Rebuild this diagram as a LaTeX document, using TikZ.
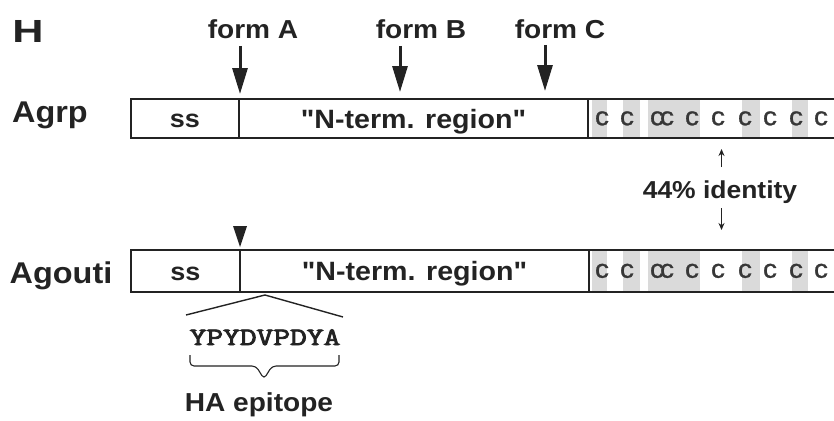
\documentclass[tikz,border=0pt]{standalone}
\usepackage{fontspec}
\newfontfamily\sansb{Liberation Sans}[FakeStretch=1.08]
\newfontfamily\cfont{Liberation Sans}[FakeStretch=1.08, FakeBold=1]
\newfontfamily\epifont{Latin Modern Mono}[FakeBold=3.5, FakeStretch=1.3]
\usetikzlibrary{arrows.meta}
\definecolor{ink}{RGB}{35,35,35}
\definecolor{band}{RGB}{218,218,218}
\definecolor{cgray}{RGB}{55,55,55}
\tikzset{
  lbl/.style={font=\sansb\bfseries\fontsize{26}{30}\selectfont, text=ink, inner sep=0pt, anchor=base},
  protname/.style={font=\sansb\bfseries\fontsize{30}{36}\selectfont, text=ink, inner sep=0pt, anchor=base},
  seg/.style={draw=ink, line width=1.6pt, inner sep=0pt, text=ink, text depth=0pt},
  cc/.style={font=\cfont\fontsize{26}{30}\selectfont, text=cgray, inner sep=0pt, text height=13.5pt, text depth=0pt},
  bigarrow/.style={draw=ink, line width=3pt, -{Triangle[width=15pt,length=26pt]}},
  smallarrow/.style={draw=ink, line width=1pt, -{Stealth[width=6pt,length=7pt]}},
  thinline/.style={draw=ink, line width=1.4pt},
}
\begin{document}
\begin{tikzpicture}[x=1pt, y=-1pt]
\useasboundingbox (0,0) rectangle (834,420);
\clip (0,0) rectangle (834,420);

% panel letter and names
\node[lbl, font=\sansb\bfseries\fontsize{32}{36}\selectfont] (H) at (28,43) {\scalebox{1.25}[1]{H}};
\node[protname] (agrpname) at (50,122) {Agrp};
\node[protname] (agoutiname) at (61,283) {Agouti};

% form labels
\node[lbl] (formA) at (253,38) {form A};
\node[lbl] (formB) at (421,38) {form B};
\node[lbl] (formC) at (560,38) {form C};

% gray bands in the cysteine regions
\foreach \a/\b in {592/607, 623/640, 648/700, 742/760, 792/808}{
  \fill[band] (\a,100) rectangle (\b,137);
  \fill[band] (\a,251) rectangle (\b,291);
}

% Agrp boxes
\node[seg, minimum width=108pt, minimum height=39pt, text height=18pt,
      font=\sansb\bfseries\fontsize{25}{30}\selectfont] (rss) at (185,118.5) {ss};
\node[seg, minimum width=349pt, minimum height=39pt, text height=19pt,
      font=\sansb\bfseries\fontsize{26.5}{30}\selectfont] (rnt) at (413.5,118.5) {"N-term. region"};
\node[seg, minimum width=272pt, minimum height=39pt] (rcy) at (724,118.5) {};

% Agouti boxes
\node[seg, minimum width=109pt, minimum height=42pt, text height=18pt,
      font=\sansb\bfseries\fontsize{25}{30}\selectfont] (oss) at (185.5,271) {ss};
\node[seg, minimum width=349pt, minimum height=42pt, text height=19pt,
      font=\sansb\bfseries\fontsize{26.5}{30}\selectfont] (ont) at (414.5,271) {"N-term. region"};
\node[seg, minimum width=272pt, minimum height=42pt] (ocy) at (725,271) {};

% cysteines
\foreach \x [count=\i] in {602,627,662,692,718,745,770,796,821}{
  \ifnum\i=3
    \node[cc] (rc\i) at (\x,118.5) {c\kern-4pt c};
    \node[cc] (oc\i) at (\x,271) {c\kern-4pt c};
  \else
    \node[cc] (rc\i) at (\x,118.5) {c};
    \node[cc] (oc\i) at (\x,271) {c};
  \fi
}

% cleavage arrows
\coordinate (sA) at (240,46);  \coordinate (tA) at (240,94);
\coordinate (sB) at (400,46);  \coordinate (tB) at (400,92);
\coordinate (sC) at (545,45);  \coordinate (tC) at (545,91);
\draw[bigarrow] (sA) -- (tA);
\draw[bigarrow] (sB) -- (tB);
\draw[bigarrow] (sC) -- (tC);

% agouti insertion marker
\fill[ink] (233,226) -- (247,226) -- (240,247) -- cycle;

% identity
\node[lbl, font=\sansb\bfseries\fontsize{24.5}{28}\selectfont] (ident) at (720,198) {44\% identity};
\coordinate (u0) at (721.5,167); \coordinate (u1) at (721.5,149);
\coordinate (d0) at (721.5,208); \coordinate (d1) at (721.5,230);
\draw[smallarrow] (u0) -- (u1);
\draw[smallarrow] (d0) -- (d1);

% HA epitope
\coordinate (apex) at (265,295);
\coordinate (eL) at (186,315);
\coordinate (eR) at (343,317);
\draw[thinline] (eL) -- (apex) -- (eR);
\node[font=\epifont\fontsize{25}{28}\selectfont, text=ink, inner sep=0pt, anchor=base] (seq) at (265,345) {YPYDVPDYA};
\draw[draw=ink, line width=1.1pt, rounded corners=4pt]
  (190,355) -- (190,366) -- (256,366) -- (264,379) -- (272,366) -- (339,366) -- (339,355);
\node[lbl, font=\sansb\bfseries\fontsize{26}{30}\selectfont] (ha) at (259,411) {HA epitope};
\end{tikzpicture}
\end{document}
